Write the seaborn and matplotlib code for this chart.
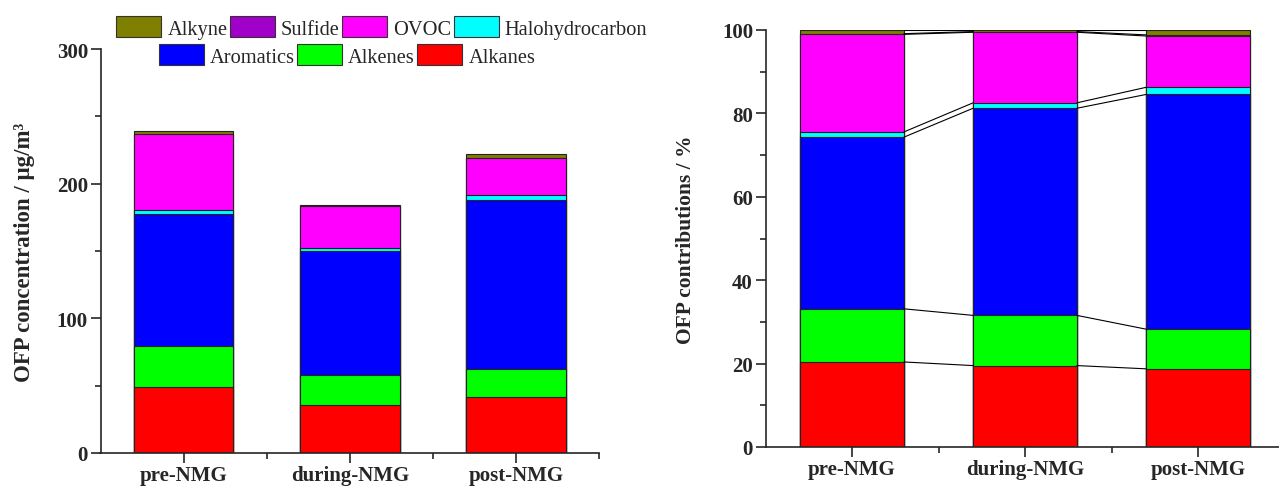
import numpy as np
import pandas as pd
import matplotlib
matplotlib.use("Agg")
import matplotlib.pyplot as plt
from matplotlib.patches import Patch
from matplotlib.ticker import MultipleLocator
import seaborn as sns

periods = ["pre-NMG", "during-NMG", "post-NMG"]
# stacking order, bottom -> top
groups = ["Alkanes", "Alkenes", "Aromatics", "Halohydrocarbon", "OVOC", "Sulfide", "Alkyne"]
alkanes = [48.8, 36.0, 41.6]
alkenes = [30.5, 22.2, 21.1]
aromatics = [98.5, 91.6, 124.9]
halohydrocarbon = [3.0, 2.4, 3.8]
ovoc = [56.0, 31.2, 27.3]
sulfide = [0.4, 0.3, 0.6]
alkyne = [2.1, 0.7, 2.6]

colors = {"Alkanes": "#FF0000", "Alkenes": "#00FF00", "Aromatics": "#0000FF",
          "Halohydrocarbon": "#00FFFF", "OVOC": "#FF00FF", "Sulfide": "#A000C8",
          "Alkyne": "#808000"}

df = pd.DataFrame({"Alkanes": alkanes, "Alkenes": alkenes, "Aromatics": aromatics,
                   "Halohydrocarbon": halohydrocarbon, "OVOC": ovoc,
                   "Sulfide": sulfide, "Alkyne": alkyne}, index=periods)
pct = df.div(df.sum(axis=1), axis=0) * 100

sns.set_style("ticks")
plt.rcParams["font.family"] = ["Liberation Serif", "DejaVu Serif"]
plt.rcParams["xtick.direction"] = "out"
plt.rcParams["ytick.direction"] = "out"

W, H = 1279, 489
fig = plt.figure(figsize=(W / 100, H / 100), dpi=100)
# axes placed in pixel terms of the reference
ax1 = fig.add_axes([100.5 / W, (H - 454) / H, 498.5 / W, 404 / H])
ax2 = fig.add_axes([765.5 / W, (H - 448) / H, 519 / W, 417 / H])


def stacked(ax, data):
    cum = data.cumsum(axis=1)
    # draw cumulative totals from the top layer down so lower layers overlap
    for g in groups[::-1]:
        sns.barplot(x=periods, y=cum[g].values, color=colors[g], width=0.6,
                    edgecolor="#222222", linewidth=0.8, saturation=1, ax=ax)
    return cum


stacked(ax1, df)
cum = stacked(ax2, pct)

# connecting lines between bars on the percent panel
for g in groups:
    for i in range(len(periods) - 1):
        ax2.plot([i + 0.3, i + 0.7], [cum[g].iloc[i], cum[g].iloc[i + 1]],
                 color="black", lw=0.8, zorder=1)

for ax, top, major, minor in [(ax1, 300, 100, 50), (ax2, 100, 20, 10)]:
    ax.set_xlim(-0.5, 2.5)
    ax.set_ylim(0, top)
    ax.yaxis.set_major_locator(MultipleLocator(major))
    ax.yaxis.set_minor_locator(MultipleLocator(minor))
    ax.set_xticks([0, 1, 2])
    ax.set_xticks([0.5, 1.5, 2.5], minor=True)
    ax.set_xticklabels(periods)
    ax.tick_params(which="major", length=7, width=1.2, labelsize=15, pad=2)
    ax.tick_params(which="minor", length=4, width=1.2)
    ax.tick_params(axis="x", which="major", pad=1.5)
    for lab in ax.get_xticklabels() + ax.get_yticklabels():
        lab.set_fontweight("bold")
    for s in ["left", "bottom"]:
        ax.spines[s].set_linewidth(1.2)
    sns.despine(ax=ax)

ax1.set_ylabel("OFP concentration / μg/m³", fontsize=16.5, fontweight="bold")
ax2.set_ylabel("OFP contributions / %", fontsize=15.5, fontweight="bold")
ax1.yaxis.set_label_coords(-0.131, 0.5)
ax2.yaxis.set_label_coords(-0.134, 0.5)

row1 = ["Alkyne", "Sulfide", "OVOC", "Halohydrocarbon"]
row2 = ["Aromatics", "Alkenes", "Alkanes"]
for names, yy, xx in [(row1, 1 - 28.6 / H, 382 / W), (row2, 1 - 56.4 / H, 347 / W)]:
    handles = [Patch(facecolor=colors[n], edgecolor="#333333", linewidth=0.8) for n in names]
    fig.legend(handles, names, loc="center", bbox_to_anchor=(xx, yy), ncol=len(names),
               frameon=False, fontsize=14.7, handlelength=2.2, handleheight=1.2,
               handletextpad=0.3, columnspacing=0.12, borderpad=0, borderaxespad=0)

fig.savefig("out.png", dpi=100)
